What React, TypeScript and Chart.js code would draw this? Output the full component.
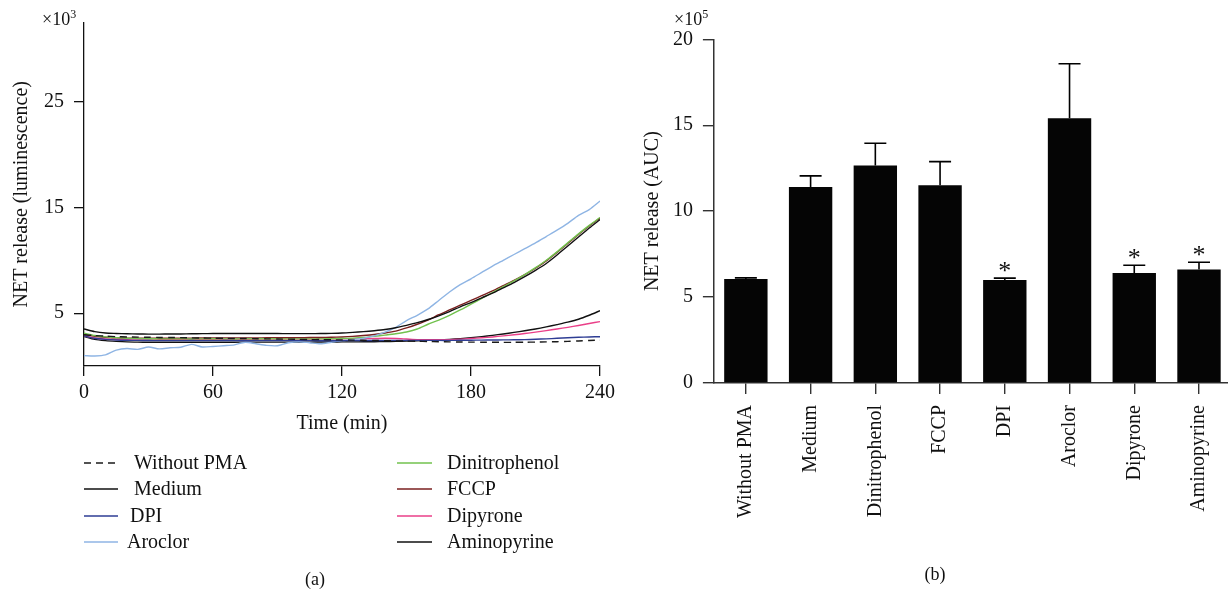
import React, { useEffect, useRef } from 'react';
import { Chart, registerables } from 'chart.js';

Chart.register(...registerables);

const FONT = '"Liberation Serif", "DejaVu Serif", "Times New Roman", serif';
const INK = '#111111';

// ---------- Panel (a): NET release kinetics (x10^3 luminescence) ----------
const timeMin = [
  0, 5, 10, 15, 20, 25, 30, 35, 40, 45,
  50, 55, 60, 65, 70, 75, 80, 85, 90, 95,
  100, 105, 110, 115, 120, 125, 130, 135, 140, 145,
  150, 155, 160, 165, 170, 175, 180, 185, 190, 195,
  200, 205, 210, 215, 220, 225, 230, 235, 240,
];

const withoutPMA = [
  2.95, 2.88, 2.82, 2.78, 2.75, 2.73, 2.72, 2.70, 2.70, 2.68,
  2.66, 2.65, 2.63, 2.62, 2.60, 2.60, 2.58, 2.57, 2.55, 2.54,
  2.52, 2.50, 2.50, 2.48, 2.47, 2.45, 2.43, 2.42, 2.40, 2.38,
  2.36, 2.34, 2.32, 2.30, 2.28, 2.27, 2.26, 2.25, 2.25, 2.24,
  2.24, 2.25, 2.26, 2.28, 2.30, 2.33, 2.37, 2.41, 2.45,
];
const medium = [
  3.50, 3.25, 3.12, 3.08, 3.05, 3.03, 3.02, 3.02, 3.03, 3.03,
  3.05, 3.06, 3.07, 3.07, 3.08, 3.08, 3.08, 3.07, 3.07, 3.06,
  3.06, 3.06, 3.07, 3.09, 3.12, 3.18, 3.25, 3.34, 3.45, 3.62,
  3.85, 4.10, 4.40, 4.75, 5.15, 5.60, 6.00, 6.45, 6.90, 7.40,
  7.90, 8.45, 9.05, 9.70, 10.50, 11.35, 12.20, 13.05, 13.85,
];
const dpi = [
  2.85, 2.62, 2.52, 2.46, 2.43, 2.42, 2.41, 2.40, 2.40, 2.40,
  2.41, 2.40, 2.40, 2.41, 2.40, 2.39, 2.40, 2.40, 2.41, 2.40,
  2.40, 2.40, 2.39, 2.39, 2.40, 2.40, 2.41, 2.41, 2.42, 2.42,
  2.42, 2.42, 2.42, 2.42, 2.42, 2.43, 2.44, 2.45, 2.46, 2.47,
  2.48, 2.50, 2.53, 2.57, 2.62, 2.67, 2.72, 2.75, 2.77,
];
const aroclor = [
  0.98, 0.95, 1.05, 1.50, 1.65, 1.57, 1.80, 1.62, 1.72, 1.78,
  2.05, 1.80, 1.85, 1.92, 2.00, 2.25, 2.10, 1.95, 1.92, 2.20,
  2.30, 2.20, 2.10, 2.25, 2.40, 2.50, 2.62, 2.85, 3.20, 3.65,
  4.30, 4.80, 5.40, 6.20, 7.00, 7.70, 8.25, 8.85, 9.45, 10.00,
  10.55, 11.10, 11.65, 12.25, 12.85, 13.50, 14.25, 14.80, 15.60,
];
const dinitrophenol = [
  3.10, 2.88, 2.76, 2.68, 2.63, 2.60, 2.58, 2.57, 2.57, 2.57,
  2.56, 2.57, 2.58, 2.57, 2.56, 2.57, 2.58, 2.58, 2.57, 2.57,
  2.57, 2.57, 2.57, 2.58, 2.60, 2.64, 2.70, 2.80, 2.92, 3.05,
  3.22, 3.50, 3.95, 4.35, 4.80, 5.30, 5.85, 6.40, 6.95, 7.50,
  8.05, 8.65, 9.30, 10.00, 10.80, 11.65, 12.50, 13.30, 14.05,
];
const fccp = [
  3.00, 2.82, 2.72, 2.67, 2.64, 2.62, 2.62, 2.62, 2.63, 2.63,
  2.64, 2.65, 2.65, 2.66, 2.66, 2.66, 2.66, 2.67, 2.67, 2.68,
  2.68, 2.69, 2.70, 2.72, 2.75, 2.80, 2.88, 2.98, 3.12, 3.30,
  3.60, 3.95, 4.35, 4.85, 5.30, 5.75, 6.20, 6.65, 7.10, 7.60,
  8.10, 8.65, 9.25, 9.95, 10.75, 11.60, 12.45, 13.25, 14.00,
];
const dipyrone = [
  2.85, 2.65, 2.56, 2.51, 2.48, 2.47, 2.47, 2.48, 2.49, 2.50,
  2.50, 2.51, 2.52, 2.52, 2.53, 2.53, 2.54, 2.54, 2.55, 2.55,
  2.56, 2.56, 2.57, 2.57, 2.58, 2.58, 2.59, 2.60, 2.62, 2.60,
  2.55, 2.50, 2.48, 2.48, 2.50, 2.54, 2.60, 2.67, 2.75, 2.85,
  2.95, 3.07, 3.20, 3.35, 3.50, 3.66, 3.83, 4.02, 4.20,
];
const aminopyrine = [
  2.80, 2.52, 2.40, 2.33, 2.28, 2.26, 2.25, 2.25, 2.25, 2.25,
  2.25, 2.25, 2.25, 2.25, 2.25, 2.26, 2.26, 2.26, 2.26, 2.26,
  2.26, 2.26, 2.27, 2.27, 2.28, 2.28, 2.29, 2.30, 2.31, 2.33,
  2.35, 2.38, 2.42, 2.46, 2.52, 2.59, 2.68, 2.78, 2.90, 3.03,
  3.18, 3.33, 3.50, 3.70, 3.92, 4.15, 4.42, 4.80, 5.23,
];

const seriesNames = [
  'Without PMA', 'Medium', 'DPI', 'Aroclor',
  'Dinitrophenol', 'FCCP', 'Dipyrone', 'Aminopyrine',
];
const seriesValues = [
  withoutPMA, medium, dpi, aroclor,
  dinitrophenol, fccp, dipyrone, aminopyrine,
];
const seriesColors = [
  '#1a1a1a', '#111111', '#2e3d94', '#8fb5e4',
  '#72c24e', '#7a1f1f', '#ea3f88', '#111111',
];
const seriesDashed = [true, false, false, false, false, false, false, false];

const lumTicks = [5, 15, 25];
const timeTicks = [0, 60, 120, 180, 240];

// ---------- Panel (b): NET release AUC (x10^5) ----------
const aucCategories = [
  'Without PMA', 'Medium', 'Dinitrophenol', 'FCCP',
  'DPI', 'Aroclor', 'Dipyrone', 'Aminopyrine',
];
const aucMeans = [6.05, 11.4, 12.65, 11.5, 6.0, 15.4, 6.4, 6.6];
const aucUpperError = [6.12, 12.05, 13.95, 12.88, 6.1, 18.58, 6.85, 7.03];
const aucSignificant = [false, false, false, false, true, false, true, true];
const aucTicks = [0, 5, 10, 15, 20];

const lineExtras = {
  id: 'lineExtras',
  afterDraw(chart: any) {
    const ctx = chart.ctx;
    ctx.save();
    ctx.fillStyle = INK;
    ctx.textBaseline = 'alphabetic';
    ctx.textAlign = 'left';
    ctx.font = `18px ${FONT}`;
    ctx.fillText('×10', 42, 25);
    const w = ctx.measureText('×10').width;
    ctx.font = `12px ${FONT}`;
    ctx.fillText('3', 42 + w, 18);

    const rowsY = [463, 489, 516, 542];
    const sampleX = [[84, 118], [397, 432]];
    const textX = [[134, 134, 130, 127], [447, 447, 447, 447]];
    ctx.font = `20px ${FONT}`;
    ctx.textBaseline = 'middle';
    chart.data.datasets.forEach((ds: any, i: number) => {
      const col = i < 4 ? 0 : 1;
      const row = i % 4;
      const y = rowsY[row];
      ctx.beginPath();
      ctx.strokeStyle = ds.borderColor;
      ctx.lineWidth = 1.6;
      ctx.setLineDash(ds.borderDash || []);
      ctx.moveTo(sampleX[col][0], y);
      ctx.lineTo(sampleX[col][1], y);
      ctx.stroke();
      ctx.setLineDash([]);
      ctx.fillStyle = INK;
      ctx.fillText(ds.label, textX[col][row], y + 1);
    });

    ctx.textAlign = 'center';
    ctx.font = `18px ${FONT}`;
    ctx.fillText('(a)', 315, 580);
    ctx.restore();
  },
};

const barExtras = {
  id: 'barExtras',
  afterDatasetsDraw(chart: any) {
    const ctx = chart.ctx;
    const xs = chart.scales.x;
    const ys = chart.scales.y;
    ctx.save();
    ctx.strokeStyle = '#000';
    ctx.lineWidth = 1.6;
    aucMeans.forEach((m, i) => {
      const x = xs.getPixelForValue(i);
      const y0 = ys.getPixelForValue(m);
      const y1 = ys.getPixelForValue(aucUpperError[i]);
      ctx.beginPath();
      ctx.moveTo(x, y0);
      ctx.lineTo(x, y1);
      ctx.moveTo(x - 11, y1);
      ctx.lineTo(x + 11, y1);
      ctx.stroke();
      if (aucSignificant[i]) {
        ctx.fillStyle = INK;
        ctx.font = `26px ${FONT}`;
        ctx.textAlign = 'center';
        ctx.textBaseline = 'alphabetic';
        ctx.fillText('*', x, y1 + 1);
      }
    });
    ctx.fillStyle = INK;
    ctx.textAlign = 'left';
    ctx.textBaseline = 'alphabetic';
    ctx.font = `18px ${FONT}`;
    ctx.fillText('×10', 54, 25);
    const w = ctx.measureText('×10').width;
    ctx.font = `12px ${FONT}`;
    ctx.fillText('5', 54 + w, 18);

    ctx.textAlign = 'center';
    ctx.font = `18px ${FONT}`;
    ctx.fillText('(b)', 315, 580);
    ctx.restore();
  },
};

export default function App() {
  const leftRef = useRef<HTMLCanvasElement>(null);
  const rightRef = useRef<HTMLCanvasElement>(null);

  useEffect(() => {
    Chart.defaults.font.family = FONT;
    Chart.defaults.color = INK;

    const lineChart = new Chart(leftRef.current as HTMLCanvasElement, {
      type: 'line',
      data: {
        datasets: seriesNames.map((name, i) => ({
          label: name,
          data: timeMin.map((t, k) => ({ x: t, y: seriesValues[i][k] })),
          borderColor: seriesColors[i],
          borderWidth: 1.4,
          borderDash: seriesDashed[i] ? [7, 5] : [],
          pointRadius: 0,
          tension: 0.25,
          fill: false,
        })),
      },
      options: {
        animation: false,
        responsive: true,
        maintainAspectRatio: false,
        layout: { padding: { left: 0, right: 18, top: 22.5, bottom: 154 } },
        plugins: { legend: { display: false }, tooltip: { enabled: false } },
        scales: {
          x: {
            type: 'linear',
            min: 0,
            max: 240,
            afterBuildTicks: (s: any) => { s.ticks = timeTicks.map((v) => ({ value: v })); },
            afterFit: (s: any) => { s.height = 74; },
            ticks: { font: { size: 20 }, padding: 5, color: INK },
            grid: { display: true, drawOnChartArea: false, drawTicks: true, tickLength: 10, color: '#111', lineWidth: 1.3 },
            border: { display: true, color: '#111', width: 1.3 },
            title: { display: true, text: 'Time (min)', font: { size: 20 }, color: INK, padding: { top: 0, bottom: 4 } },
          },
          y: {
            type: 'linear',
            min: 0,
            max: 32.5,
            afterBuildTicks: (s: any) => { s.ticks = lumTicks.map((v) => ({ value: v })); },
            afterFit: (s: any) => { s.width = 84; },
            ticks: { font: { size: 20 }, padding: 10, color: INK },
            grid: { display: true, drawOnChartArea: false, drawTicks: true, tickLength: 10, color: '#111', lineWidth: 1.3 },
            border: { display: true, color: '#111', width: 1.3 },
            title: { display: true, text: 'NET release (luminescence)', font: { size: 20 }, color: INK, padding: { top: 10, bottom: 0 } },
          },
        },
      },
      plugins: [lineExtras],
    } as any);

    const barChart = new Chart(rightRef.current as HTMLCanvasElement, {
      type: 'bar',
      data: {
        labels: aucCategories,
        datasets: [{
          label: 'NET release (AUC)',
          data: aucMeans,
          backgroundColor: '#050505',
          borderWidth: 0,
          barPercentage: 0.67,
          categoryPercentage: 1,
        }],
      },
      options: {
        animation: false,
        responsive: true,
        maintainAspectRatio: false,
        layout: { padding: { left: 0, right: 0, top: 39.3, bottom: 0 } },
        plugins: { legend: { display: false }, tooltip: { enabled: false } },
        scales: {
          x: {
            type: 'category',
            offset: true,
            afterFit: (s: any) => { s.height = 211; },
            ticks: { font: { size: 20 }, padding: 11, color: INK, minRotation: 90, maxRotation: 90, autoSkip: false },
            grid: { display: true, offset: false, drawOnChartArea: false, drawTicks: true, tickLength: 11, color: '#333', lineWidth: 1.4 },
            border: { display: true, color: '#333', width: 1.5 },
          },
          y: {
            type: 'linear',
            min: 0,
            max: 20,
            afterBuildTicks: (s: any) => { s.ticks = aucTicks.map((v) => ({ value: v })); },
            afterFit: (s: any) => { s.width = 93.5; },
            ticks: { font: { size: 20 }, padding: 10, color: INK },
            grid: { display: true, drawOnChartArea: false, drawTicks: true, tickLength: 10.6, color: '#333', lineWidth: 1.4 },
            border: { display: true, color: '#333', width: 1.5 },
            title: { display: true, text: 'NET release (AUC)', font: { size: 20 }, color: INK, padding: { top: 21, bottom: 0 } },
          },
        },
      },
      plugins: [barExtras],
    } as any);

    return () => {
      lineChart.destroy();
      barChart.destroy();
    };
  }, []);

  return (
    <div style={{ position: 'absolute', left: 0, top: 0, width: 1228, height: 594, background: '#fff', overflow: 'hidden' }}>
      <div style={{ position: 'absolute', left: 0, top: 0, width: 620, height: 594 }}>
        <canvas ref={leftRef} />
      </div>
      <div style={{ position: 'absolute', left: 620, top: 0, width: 614, height: 594 }}>
        <canvas ref={rightRef} />
      </div>
    </div>
  );
}
